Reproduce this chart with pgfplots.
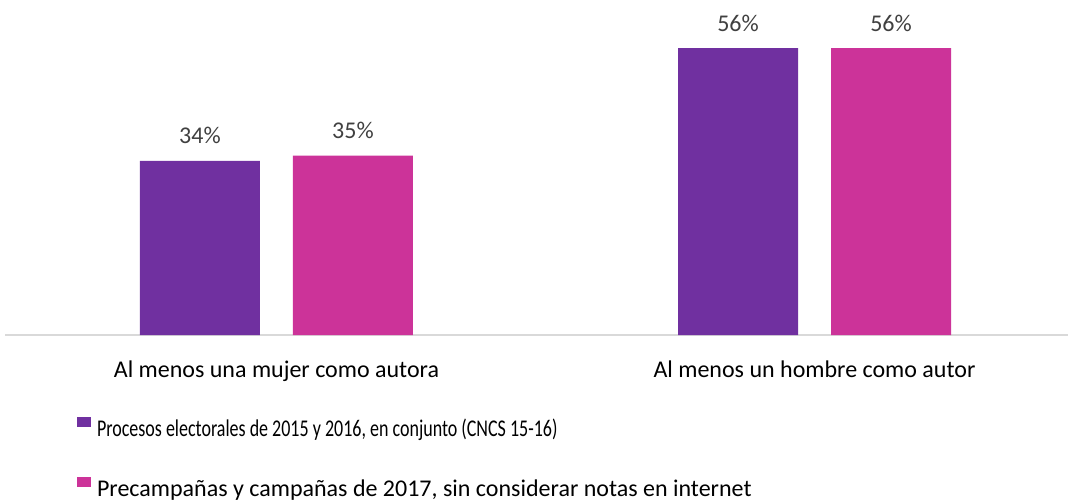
\documentclass[border=0pt]{standalone}
\usepackage{fontspec}
\setmainfont{Carlito}
\usepackage{graphicx}
\usepackage{pgfplots}
\pgfplotsset{compat=1.18}

\definecolor{morado}{HTML}{7030A0}
\definecolor{rosa}{HTML}{CC3399}
\definecolor{gristexto}{HTML}{404040}
\definecolor{gris}{HTML}{D9D9D9}

\begin{document}
\begin{tikzpicture}
\useasboundingbox (-2.5pt,-83.5pt) rectangle (531.5pt,167.5pt);
\begin{axis}[
    at={(0,0)}, anchor=south west,
    scale only axis,
    width=531.5pt, height=167.5pt,
    font=\fontsize{12}{14}\selectfont,
    /pgf/number format/assume math mode=true,
    ybar=16.5pt, bar width=60pt,
    xmin=-0.5046, xmax=1.4712,
    ymin=0, ymax=65.37,
    axis x line=bottom, axis y line=none,
    axis line style={draw=gris, line width=1pt, -},
    xtick={0,1}, xtick style={draw=none},
    xticklabels={Al menos una mujer como autora, Al menos un hombre como autor},
    xticklabel style={anchor=base, yshift=-19pt, text=black},
    nodes near coords={\pgfmathprintnumber{\pgfplotspointmeta}\%},
    nodes near coords style={anchor=base, yshift=8.5pt, text=gristexto},
    legend cell align=left,
    legend style={draw=none, fill=none, inner sep=0pt, at={(0.0674,-0.2448)}, anchor=north west,
        row sep=17.5pt, column sep=3pt,
        nodes={inner sep=0pt, text height=9pt, text depth=3pt, text=black}},
    legend image code/.code={\fill[#1] (0pt,1.5pt) rectangle (7pt,6.5pt);},
]
\addplot[draw=none, fill=morado] coordinates {(0,34) (1,56)};
\addplot[draw=none, fill=rosa] coordinates {(0,35) (1,56)};
\legend{{\scalebox{0.75}[1]{Procesos electorales de 2015 y 2016, en conjunto (CNCS 15-16)}},
        {Precampañas y campañas de 2017, sin considerar notas en internet}}
\end{axis}
\end{tikzpicture}
\end{document}
